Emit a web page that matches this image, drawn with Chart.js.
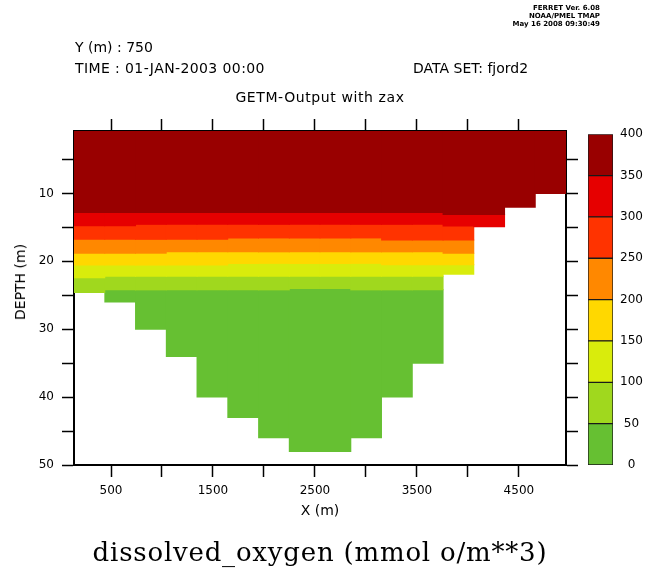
<!DOCTYPE html>
<html lang="en">
<head>
<meta charset="UTF-8">
<title>GETM-Output with zax - dissolved_oxygen</title>
<style>
  html, body { margin: 0; padding: 0; background: #fff; }
  #wrap { position: relative; width: 652px; height: 570px; overflow: hidden; font-family: 'DejaVu Sans', sans-serif; color: #000; }
  #wrap canvas { position: absolute; }
  .txt { position: absolute; white-space: nowrap; font-size: 14px; line-height: 16px; }
  .stamp { position: absolute; white-space: nowrap; font-size: 7px; line-height: 8px; font-weight: bold; text-align: right; }
</style>
</head>
<body>
<div id="wrap">
  <canvas id="section" width="652" height="570" style="left:0;top:0"></canvas>
  <canvas id="colorbar" width="72" height="360" style="left:580px;top:120px"></canvas>

  <div class="stamp" style="right:52px;top:4px">FERRET Ver. 6.08<br>NOAA/PMEL TMAP<br>May 16 2008 09:30:49</div>
  <div class="txt" style="left:75px;top:39px">Y (m) : 750</div>
  <div class="txt" style="left:75px;top:60px;letter-spacing:0.4px">TIME : 01-JAN-2003 00:00</div>
  <div class="txt" style="left:413px;top:60px">DATA SET: fjord2</div>
  <div class="txt" style="left:320px;top:89px;transform:translateX(-50%);letter-spacing:0.6px">GETM-Output with zax</div>
  <div class="txt" style="left:20px;top:282px;transform:translate(-50%,-50%) rotate(-90deg)">DEPTH (m)</div>
  <div class="txt" style="left:320px;top:537px;transform:translateX(-50%);font-family:'DejaVu Serif',serif;font-size:26px;line-height:30px;letter-spacing:0.8px">dissolved_oxygen (mmol o/m**3)</div>
</div>

<script src="https://cdn.jsdelivr.net/npm/chart.js@4.4.1/dist/chart.umd.min.js"></script>
<script>
// centros de las columnas del modelo (X en m)
const xCenters = [288, 590, 891, 1193, 1494, 1796, 2098, 2399, 2701, 3002, 3304, 3606, 3907, 4209, 4510, 4812];
const xMin = 137;
const xMax = 4962;
const surfaceDepth = 0.8;
const bottomDepth = 50;

// profundidad inferior de cada banda por columna (null = no hay agua en esa banda)
const band350_400 = [12.8, 12.8, 12.8, 12.8, 12.8, 12.8, 12.8, 12.8, 12.8, 12.8, 12.8, 12.8, 13.1, 13.1, 12.05, 10.0];
const band300_350 = [14.75, 14.75, 14.55, 14.55, 14.55, 14.55, 14.55, 14.55, 14.55, 14.55, 14.55, 14.55, 14.8, 14.9, null, null];
const band250_300 = [16.76, 16.76, 16.76, 16.76, 16.76, 16.55, 16.55, 16.55, 16.55, 16.55, 16.86, 16.86, 16.86, null, null, null];
const band200_250 = [18.8, 18.8, 18.8, 18.6, 18.6, 18.6, 18.6, 18.6, 18.6, 18.6, 18.6, 18.6, 18.8, null, null, null];
const band150_200 = [20.55, 20.55, 20.55, 20.55, 20.55, 20.3, 20.3, 20.3, 20.3, 20.3, 20.5, 20.5, 20.5, null, null, null];
const band100_150 = [22.4, 22.2, 22.2, 22.2, 22.2, 22.2, 22.2, 22.2, 22.2, 22.2, 22.2, 22.2, 21.9, null, null, null];
const band50_100 = [24.6, 24.2, 24.2, 24.2, 24.2, 24.2, 24.2, 24.0, 24.0, 24.2, 24.2, 24.2, null, null, null, null];
const band0_50 = [null, 26, 30, 34, 40, 43, 46, 48, 48, 46, 40, 35, null, null, null, null];

// niveles de la escala de colores
const levels = [0, 50, 100, 150, 200, 250, 300, 350, 400];
const levelColors = ['#66c032', '#a0d81e', '#d9ec0c', '#ffd800', '#ff8800', '#ff3300', '#e60000', '#990000'];

const xTicks = [500, 1000, 1500, 2000, 2500, 3000, 3500, 4000, 4500];
const yTicks = [5, 10, 15, 20, 25, 30, 35, 40, 45, 50];

// de la superficie hacia el fondo
const bandsTopDown = [band350_400, band300_350, band250_300, band200_250, band150_200, band100_150, band50_100, band0_50];

const datasets = bandsTopDown.map((band, i) => {
    const data = [];
    band.forEach((bottom, c) => {
        if (bottom === null) return;
        const top = i === 0 ? surfaceDepth : bandsTopDown[i - 1][c];
        data.push({ x: xCenters[c], y: [top, bottom] });
    });
    return {
        label: levels[7 - i] + '-' + levels[8 - i],
        data: data,
        backgroundColor: levelColors[7 - i],
        borderWidth: 0,
        grouped: false,
        barPercentage: 1,
        categoryPercentage: 1,
        inflateAmount: 0.5
    };
});

const tickGrid = {
    drawOnChartArea: false,
    drawTicks: true,
    tickLength: 12,
    tickColor: '#000',
    tickWidth: 1.5
};
const axisBorder = { display: true, color: '#000', width: 2 };
const tickFont = { family: "'DejaVu Sans', sans-serif", size: 12 };

new Chart(document.getElementById('section'), {
    type: 'bar',
    data: { datasets: datasets },
    options: {
        responsive: false,
        animation: false,
        devicePixelRatio: 1,
        layout: { padding: { left: 0, right: 0, top: 0, bottom: 50 } },
        plugins: { legend: { display: false }, tooltip: { enabled: false } },
        scales: {
            x: {
                type: 'linear',
                position: 'bottom',
                min: xMin,
                max: xMax,
                offset: false,
                grid: Object.assign({ offset: false }, tickGrid),
                border: axisBorder,
                afterBuildTicks: s => { s.ticks = xTicks.map(v => ({ value: v })); },
                afterFit: s => { s.height = 55; },
                ticks: {
                    color: '#000',
                    font: tickFont,
                    padding: 7,
                    maxRotation: 0,
                    autoSkip: false,
                    callback: v => ((v - 500) % 1000 === 0 ? String(v) : '')
                },
                title: {
                    display: true,
                    text: 'X (m)',
                    color: '#000',
                    font: { family: "'DejaVu Sans', sans-serif", size: 14 },
                    padding: { top: 0, bottom: 0 }
                }
            },
            x2: {
                type: 'linear',
                position: 'top',
                min: xMin,
                max: xMax,
                offset: false,
                grid: Object.assign({ offset: false }, tickGrid),
                border: axisBorder,
                afterBuildTicks: s => { s.ticks = xTicks.map(v => ({ value: v })); },
                afterFit: s => { s.height = 131; },
                ticks: { display: false }
            },
            y: {
                type: 'linear',
                position: 'left',
                reverse: true,
                min: surfaceDepth,
                max: bottomDepth,
                beginAtZero: false,
                grid: tickGrid,
                border: axisBorder,
                afterBuildTicks: s => { s.ticks = yTicks.map(v => ({ value: v })); },
                afterFit: s => { s.width = 74; },
                ticks: {
                    color: '#000',
                    font: tickFont,
                    padding: 8,
                    autoSkip: false,
                    callback: v => (v % 10 === 0 ? String(v) : '')
                }
            },
            y2: {
                type: 'linear',
                position: 'right',
                reverse: true,
                min: surfaceDepth,
                max: bottomDepth,
                grid: tickGrid,
                border: axisBorder,
                afterBuildTicks: s => { s.ticks = yTicks.map(v => ({ value: v })); },
                afterFit: s => { s.width = 86; },
                ticks: { display: false }
            }
        }
    }
});

// barra de colores
new Chart(document.getElementById('colorbar'), {
    type: 'bar',
    data: {
        labels: [''],
        datasets: levelColors.map((col, i) => ({
            label: levels[i] + '-' + levels[i + 1],
            data: [levels[i + 1] - levels[i]],
            backgroundColor: col,
            borderColor: '#1a1a1a',
            borderWidth: 1,
            borderSkipped: false,
            barPercentage: 1,
            categoryPercentage: 1
        }))
    },
    options: {
        responsive: false,
        animation: false,
        devicePixelRatio: 1,
        layout: { padding: { left: 8, right: 0, top: 12, bottom: 15 } },
        plugins: { legend: { display: false }, tooltip: { enabled: false } },
        scales: {
            x: { display: false, stacked: true },
            y: {
                stacked: true,
                position: 'right',
                min: 0,
                max: 400,
                grid: { display: false, drawTicks: false },
                border: { display: false },
                afterBuildTicks: s => { s.ticks = levels.map(v => ({ value: v })); },
                afterFit: s => { s.width = 39; },
                ticks: {
                    color: '#000',
                    font: tickFont,
                    padding: 7,
                    crossAlign: 'center'
                }
            }
        }
    }
});
</script>
</body>
</html>
